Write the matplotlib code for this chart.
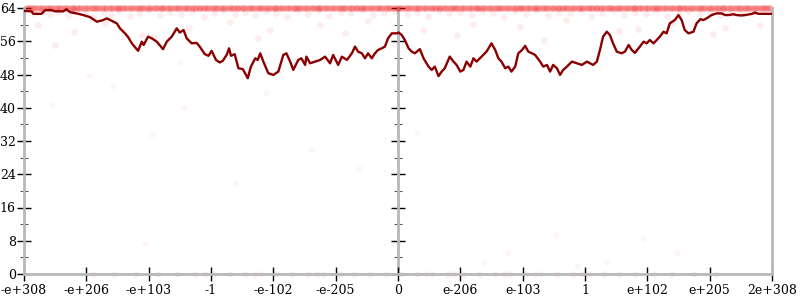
import matplotlib
matplotlib.use("Agg")
import matplotlib.pyplot as plt
from matplotlib.ticker import MultipleLocator

# ---- data -------------------------------------------------------------
tick_labels = ["-e+308", "-e+206", "-e+103", "-1", "-e-102", "-e-205", "0",
               "e-206", "e-103", "1", "e+102", "e+205", "2e+308"]
tick_pos = [-6, -5, -4, -3, -2, -1, 0, 1, 2, 3, 4, 5, 6]

line_x = [-6.00, -5.88, -5.85, -5.72, -5.66, -5.56, -5.50, -5.37, -5.32, -5.26,
          -5.13, -5.05, -4.94, -4.83, -4.75, -4.67, -4.59, -4.51, -4.46, -4.38,
          -4.33, -4.27, -4.17, -4.11, -4.08, -4.01, -3.95, -3.87, -3.77, -3.71,
          -3.63, -3.55, -3.50, -3.44, -3.39, -3.31, -3.23, -3.18, -3.10, -3.04,
          -2.99, -2.92, -2.86, -2.81, -2.75, -2.71, -2.68, -2.62, -2.56, -2.49,
          -2.41, -2.36, -2.29, -2.25, -2.21, -2.16, -2.08, -2.00, -1.92, -1.84,
          -1.79, -1.73, -1.68, -1.60, -1.55, -1.49, -1.47, -1.41, -1.33, -1.25,
          -1.17, -1.09, -1.04, -0.96, -0.90, -0.82, -0.74, -0.69, -0.64, -0.58,
          -0.53, -0.48, -0.42, -0.37, -0.32, -0.26, -0.21, -0.16, -0.10, -0.02,
          0.01, 0.06, 0.11, 0.17, 0.22, 0.27, 0.35, 0.41, 0.49, 0.54,
          0.59, 0.65, 0.70, 0.75, 0.83, 0.89, 0.94, 1.00, 1.05, 1.10,
          1.16, 1.21, 1.26, 1.34, 1.42, 1.50, 1.56, 1.61, 1.66, 1.72,
          1.77, 1.82, 1.88, 1.93, 1.99, 2.04, 2.09, 2.15, 2.20, 2.28,
          2.33, 2.39, 2.44, 2.49, 2.55, 2.60, 2.65, 2.71, 2.79, 2.87,
          2.95, 3.03, 3.08, 3.13, 3.19, 3.24, 3.29, 3.35, 3.40, 3.45,
          3.51, 3.59, 3.64, 3.70, 3.75, 3.80, 3.88, 3.94, 3.99, 4.04,
          4.10, 4.15, 4.20, 4.26, 4.31, 4.36, 4.44, 4.50, 4.55, 4.60,
          4.66, 4.74, 4.79, 4.85, 4.90, 4.95, 5.03, 5.11, 5.19, 5.25,
          5.30, 5.38, 5.43, 5.51, 5.57, 5.68, 5.73, 5.78, 5.89, 6.00]
line_y = [63.3, 63.2, 62.6, 62.6, 63.5, 63.5, 63.2, 63.2, 63.7, 63.0,
          62.6, 62.3, 61.8, 60.7, 61.0, 61.5, 60.9, 60.3, 59.1, 57.9,
          57.0, 55.5, 53.7, 55.9, 55.1, 57.1, 56.7, 55.9, 54.1, 55.9,
          57.1, 59.1, 58.1, 58.7, 56.7, 55.5, 55.6, 54.7, 52.9, 52.5,
          53.7, 51.5, 50.9, 51.3, 52.7, 54.3, 52.5, 52.9, 49.5, 49.3,
          47.1, 49.9, 51.9, 51.5, 53.1, 51.1, 48.3, 47.9, 48.7, 52.7,
          53.1, 51.1, 49.1, 51.5, 51.9, 50.3, 52.3, 50.7, 51.1, 51.5,
          52.3, 50.7, 52.7, 50.3, 52.3, 51.5, 53.1, 54.7, 53.5, 53.1,
          51.9, 53.1, 51.9, 53.1, 53.9, 54.3, 54.7, 56.7, 57.9, 57.9,
          58.1, 57.5, 56.3, 54.3, 53.5, 53.1, 54.1, 51.9, 49.9, 49.1,
          49.9, 47.6, 48.7, 49.5, 52.3, 51.1, 50.3, 48.7, 49.1, 51.1,
          49.9, 51.9, 51.1, 52.3, 53.5, 55.5, 53.9, 51.9, 51.1, 49.5,
          49.9, 48.7, 49.9, 53.1, 53.9, 54.9, 53.5, 53.1, 52.7, 51.1,
          49.9, 50.3, 48.7, 50.3, 49.5, 47.9, 49.1, 49.9, 51.1, 50.7,
          50.3, 51.1, 50.7, 50.3, 51.1, 53.9, 57.1, 58.3, 57.5, 55.5,
          53.5, 53.1, 53.5, 55.1, 53.9, 53.2, 54.7, 55.9, 55.5, 56.3,
          55.5, 56.3, 57.1, 58.3, 57.9, 60.3, 61.1, 62.3, 61.1, 58.7,
          57.9, 58.3, 60.3, 61.3, 61.1, 61.5, 62.3, 62.7, 62.7, 62.3,
          62.3, 62.5, 62.3, 62.2, 62.3, 62.6, 62.9, 62.6, 62.6, 62.6]

# individual samples saturating at 64 (two sample batches)
top_x = [-5.97, -5.90, -5.84, -5.76, -5.69, -5.61, -5.55, -5.47, -5.40, -5.33,
         -5.25, -5.19, -5.11, -5.04, -4.97, -4.89, -4.83, -4.75, -4.68, -4.61,
         -4.53, -4.47, -4.39, -4.32, -4.25, -4.17, -4.11, -4.03, -3.96, -3.89,
         -3.81, -3.75, -3.67, -3.60, -3.53, -3.45, -3.39, -3.31, -3.24, -3.17,
         -3.09, -3.03, -2.95, -2.88, -2.81, -2.73, -2.67, -2.59, -2.52, -2.45,
         -2.37, -2.31, -2.23, -2.16, -2.09, -2.01, -1.95, -1.87, -1.80, -1.73,
         -1.65, -1.59, -1.51, -1.44, -1.37, -1.29, -1.23, -1.15, -1.08, -1.01,
         -0.93, -0.87, -0.79, -0.72, -0.65, -0.57, -0.51, -0.43, -0.36, -0.29,
         -0.21, -0.15, -0.07, 0.00, 0.07, 0.15, 0.21, 0.29, 0.36, 0.43,
         0.51, 0.57, 0.65, 0.72, 0.79, 0.87, 0.93, 1.01, 1.08, 1.15,
         1.23, 1.29, 1.37, 1.44, 1.51, 1.59, 1.65, 1.73, 1.80, 1.87,
         1.95, 2.01, 2.09, 2.16, 2.23, 2.31, 2.37, 2.45, 2.52, 2.59,
         2.67, 2.73, 2.81, 2.88, 2.95, 3.03, 3.09, 3.17, 3.24, 3.31,
         3.39, 3.45, 3.53, 3.60, 3.67, 3.75, 3.81, 3.89, 3.96, 4.03,
         4.11, 4.17, 4.25, 4.32, 4.39, 4.47, 4.53, 4.61, 4.68, 4.75,
         4.83, 4.89, 4.97, 5.04, 5.11, 5.19, 5.25, 5.33, 5.40, 5.47,
         5.55, 5.61, 5.69, 5.76, 5.84, 5.90, 5.97]
top_x2 = [-5.93, -5.87, -5.80, -5.72, -5.65, -5.58, -5.51, -5.44, -5.36, -5.29,
          -5.22, -5.15, -5.08, -5.00, -4.93, -4.86, -4.79, -4.72, -4.64, -4.57,
          -4.50, -4.43, -4.36, -4.28, -4.21, -4.14, -4.07, -4.00, -3.92, -3.85,
          -3.78, -3.71, -3.64, -3.56, -3.49, -3.42, -3.35, -3.28, -3.20, -3.13,
          -3.06, -2.99, -2.92, -2.84, -2.77, -2.70, -2.63, -2.56, -2.48, -2.41,
          -2.34, -2.27, -2.20, -2.12, -2.05, -1.98, -1.91, -1.84, -1.76, -1.69,
          -1.62, -1.55, -1.48, -1.40, -1.33, -1.26, -1.19, -1.12, -1.04, -0.97,
          -0.90, -0.83, -0.76, -0.68, -0.61, -0.54, -0.47, -0.40, -0.32, -0.25,
          -0.18, -0.11, -0.04, 0.04, 0.11, 0.18, 0.25, 0.32, 0.40, 0.47,
          0.54, 0.61, 0.68, 0.76, 0.83, 0.90, 0.97, 1.04, 1.12, 1.19,
          1.26, 1.33, 1.40, 1.48, 1.55, 1.62, 1.69, 1.76, 1.84, 1.91,
          1.98, 2.05, 2.12, 2.20, 2.27, 2.34, 2.41, 2.48, 2.56, 2.63,
          2.70, 2.77, 2.84, 2.92, 2.99, 3.06, 3.13, 3.20, 3.28, 3.35,
          3.42, 3.49, 3.56, 3.64, 3.71, 3.78, 3.85, 3.92, 4.00, 4.07,
          4.14, 4.21, 4.28, 4.36, 4.43, 4.50, 4.57, 4.64, 4.72, 4.79,
          4.86, 4.93, 5.00, 5.08, 5.15, 5.22, 5.29, 5.36, 5.44, 5.51,
          5.58, 5.65, 5.72, 5.80, 5.87, 5.93]

# individual samples just below the ceiling and scattered outliers
haze_x = [-5.85, -5.70, -5.58, -5.45, -5.30, -5.18, -5.02, -4.90, -4.72, -4.60,
          -4.48, -4.30, -4.15, -4.00, -3.82, -3.66, -3.48, -3.30, -3.12, -2.95,
          -2.80, -2.62, -2.45, -2.30, -2.12, -1.95, -1.78, -1.62, -1.44, -1.28,
          -1.10, -0.92, -0.75, -0.58, -0.40, -0.22, -0.05, 0.14, 0.30, 0.48,
          0.66, 0.82, 1.00, 1.18, 1.35, 1.52, 1.70, 1.88, 2.05, 2.22,
          2.40, 2.58, 2.76, 2.94, 3.10, 3.28, 3.46, 3.62, 3.80, 3.98,
          4.14, 4.32, 4.50, 4.66, 4.84, 5.00, 5.18, 5.36, 5.52, 5.70,
          -5.78, -5.20, -4.70, -3.92, -3.35, -2.70, -2.05, -1.25, -0.48, 0.40,
          1.20, 1.95, 2.70, 3.55, 4.40, 5.25, 5.80, -5.50, -4.10, -2.25,
          -0.85, 0.95, 2.35, 3.85, 5.05]
haze_y = [62.8, 63.2, 62.5, 63.0, 62.2, 63.4, 62.7, 61.9, 63.1, 62.4,
          63.3, 62.0, 62.9, 63.4, 62.3, 63.0, 62.6, 63.3, 61.8, 62.9,
          63.4, 62.5, 63.1, 62.2, 63.3, 62.7, 61.9, 63.2, 62.6, 63.4,
          62.1, 63.0, 62.8, 63.4, 62.3, 62.9, 63.3, 62.6, 63.1, 62.0,
          63.4, 62.7, 63.0, 62.3, 63.3, 62.8, 61.9, 63.2, 62.5, 63.4,
          62.2, 63.0, 62.7, 63.3, 62.1, 62.9, 63.4, 62.4, 63.1, 62.6,
          63.3, 62.0, 62.8, 63.2, 62.5, 63.4, 62.2, 62.9, 63.1, 62.7,
          59.9, 58.2, 60.4, 57.0, 59.1, 60.6, 58.6, 59.8, 60.9, 58.8,
          60.2, 59.4, 61.0, 58.4, 60.5, 59.2, 60.0, 55.1, 57.6, 56.9,
          58.0, 57.4, 56.4, 59.0, 57.8]
out_x = [-5.55, -4.96, -4.57, -4.06, -3.49, -3.43, -2.12, -1.40, -0.62, 0.30,
         1.38, 1.77, 2.53, 2.87, 3.36, 3.93, 4.47, -3.95, -2.60]
out_y = [40.7, 47.6, 45.2, 7.5, 51.0, 40.2, 43.5, 30.0, 25.5, 34.0,
         2.8, 5.0, 9.4, 1.9, 2.8, 8.7, 5.0, 33.5, 22.0]

# individual samples at zero
zero_x = [-4.90, -4.55, -4.20, -3.85, -3.55, -3.25, -2.95, -2.70, -2.45, -2.20,
          -1.95, -1.70, -1.45, -1.20, -0.95, -0.70, -0.45, -0.20, 0.05, 0.30,
          0.55, 0.80, 1.05, 1.30, 1.55, 1.80, 2.05, 2.30, 2.55, 2.80,
          3.05, 3.30, 3.55, 3.80, 4.10, 4.40, 4.75, 5.10, -3.10, -1.30,
          0.45, 1.70, 2.95, -2.30, 0.90, 2.20]

# ---- figure -----------------------------------------------------------
plt.rcParams['font.family'] = ['DejaVu Serif']
fig = plt.figure(figsize=(8, 3), dpi=100)
ax = fig.add_axes([24 / 800, 26 / 300, 748 / 800, 266 / 300])

pt_col = (0.95, 0.05, 0.05)
ax.scatter(haze_x, haze_y, s=24, color=pt_col, alpha=0.07, linewidths=0,
           clip_on=False, zorder=2)
ax.scatter(out_x, out_y, s=20, color=pt_col, alpha=0.035, linewidths=0, zorder=2)
ax.scatter(top_x + top_x2, [64] * (len(top_x) + len(top_x2)), s=22,
           color=pt_col, alpha=0.25, linewidths=0, clip_on=False, zorder=2)
ax.scatter(zero_x, [0] * len(zero_x), s=20, color=pt_col, alpha=0.08,
           linewidths=0, clip_on=False, zorder=2)

ax.plot(line_x, line_y, color='#8b0000', lw=1.7, zorder=4)

ax.set_xlim(-6, 6)
ax.set_ylim(0, 64)

gray = '#b8b8b8'
for s in ['left', 'right', 'bottom']:
    ax.spines[s].set_color(gray)
    ax.spines[s].set_linewidth(2)
ax.spines['top'].set_visible(False)

ax.set_xticks(tick_pos)
ax.set_xticklabels(tick_labels)
ax.yaxis.set_major_locator(MultipleLocator(8))
ax.yaxis.set_minor_locator(MultipleLocator(4))
ax.tick_params(axis='both', which='major', direction='inout', length=10,
               width=1, color='black', labelsize=9, pad=1)
ax.tick_params(axis='y', which='minor', direction='inout', length=6,
               width=0.8, color='#555555')
ax.tick_params(axis='y', which='both', right=True, labelright=False)
ax.tick_params(axis='x', which='major', pad=2)

# axis through zero with its own ticks
ax2 = ax.twinx()
ax2.set_ylim(0, 64)
ax2.spines['right'].set_position(('data', 0))
ax2.spines['right'].set_color(gray)
ax2.spines['right'].set_linewidth(2)
for s in ['left', 'top', 'bottom']:
    ax2.spines[s].set_visible(False)
ax2.yaxis.set_major_locator(MultipleLocator(8))
ax2.yaxis.set_minor_locator(MultipleLocator(4))
ax2.tick_params(axis='y', which='major', direction='inout', length=10,
                width=1, color='black', labelright=False)
ax2.tick_params(axis='y', which='minor', direction='inout', length=6,
                width=0.8, color='#555555')
ax2.set_zorder(ax.get_zorder() - 1)
ax.patch.set_visible(False)

fig.savefig('out.png', dpi=100)
